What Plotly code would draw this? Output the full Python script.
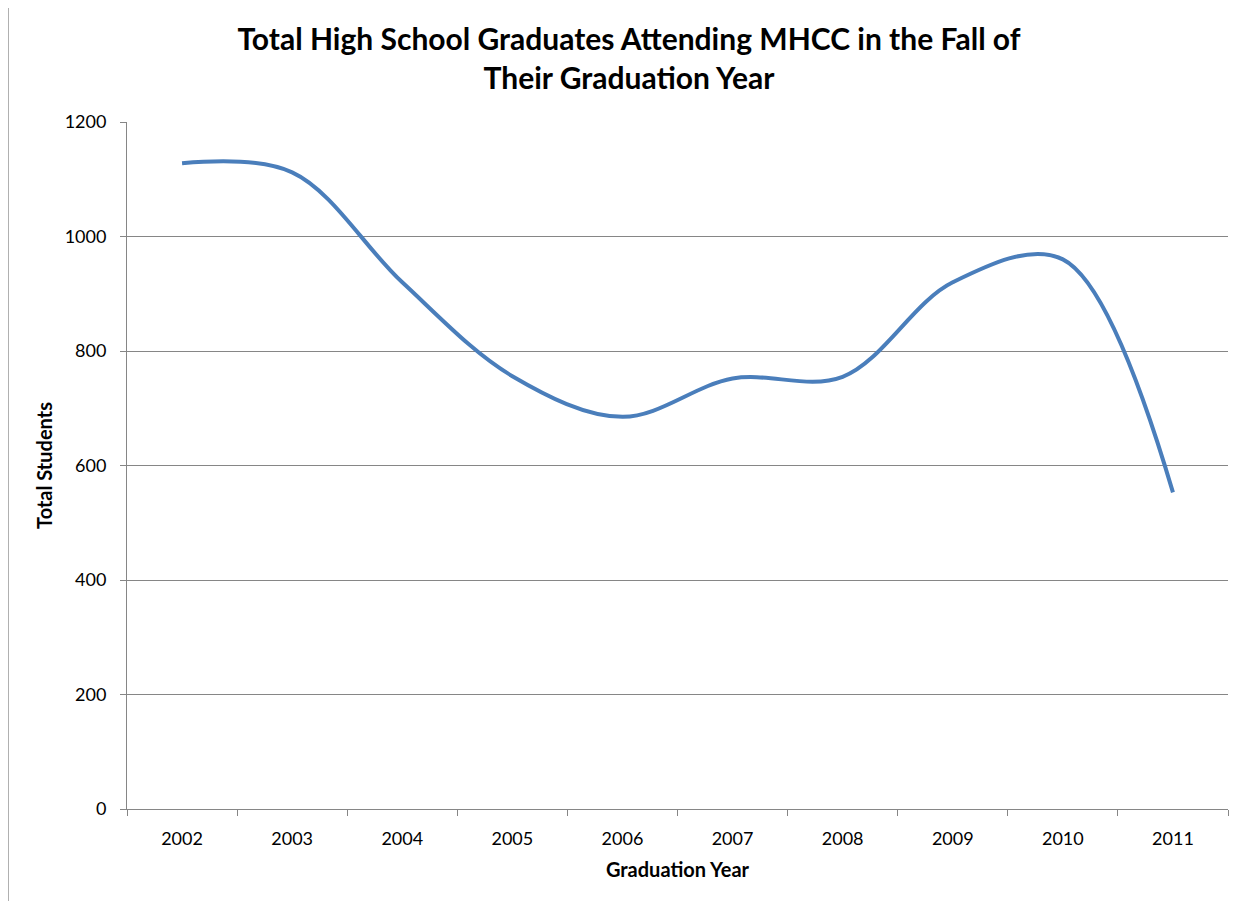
import plotly.graph_objects as go

years = ["2002", "2003", "2004", "2005", "2006", "2007", "2008", "2009", "2010", "2011"]
students = [1128, 1112, 920, 756, 685, 752, 755, 920, 960, 553]
y_ticks = [0, 200, 400, 600, 800, 1000, 1200]

# page body has an 8px margin, so the figure is a little smaller than the window
W, H = 1243, 895
L, R, T, B = 119, 23, 114, 94

fig = go.Figure()
fig.add_trace(go.Scatter(
    x=years, y=students, mode="lines",
    line=dict(color="#4A7EBB", width=4, shape="spline", smoothing=1.0),
    showlegend=False, hoverinfo="x+y",
))

font = "Lato, 'Open Sans', sans-serif"
fig.update_layout(
    width=W, height=H,
    margin=dict(l=L, r=R, t=T, b=B, autoexpand=False),
    paper_bgcolor="white", plot_bgcolor="white",
    font=dict(family=font, color="black", size=18),
    title=dict(
        text="<b>Total High School Graduates Attending MHCC in the Fall of<br>Their Graduation Year</b>",
        x=621 / W, xanchor="center", y=1 - 42 / H, yanchor="middle",
        font=dict(size=30, family=font, color="black"),
    ),
    xaxis=dict(
        type="category", range=[-0.5, 9.5], automargin=False,
        showgrid=False, showline=True, linecolor="#868686", linewidth=1,
        ticks="outside", ticklen=6, tickcolor="#868686", tickson="boundaries",
        tickfont=dict(size=18), ticklabelstandoff=13,
        title=dict(text="<b>Graduation Year</b>", font=dict(size=20), standoff=15),
    ),
    yaxis=dict(
        range=[0, 1200], tickvals=y_ticks, automargin=False,
        showgrid=True, gridcolor="#868686", gridwidth=1,
        showline=True, linecolor="#868686", linewidth=1,
        ticks="outside", ticklen=6, tickcolor="#868686",
        tickfont=dict(size=18), zeroline=False, ticklabelstandoff=10,
        title=dict(text="<b>Total Students</b>", font=dict(size=20), standoff=6),
    ),
)

# chart outer border (left edge)
x_left = (0.5 - L) / (W - L - R)
fig.add_shape(type="line", xref="paper", yref="paper",
              x0=x_left, x1=x_left, y0=-(B - 2) / (H - T - B), y1=1 + T / (H - T - B),
              line=dict(color="#B0B0B0", width=1))

fig.write_html("out.html")
